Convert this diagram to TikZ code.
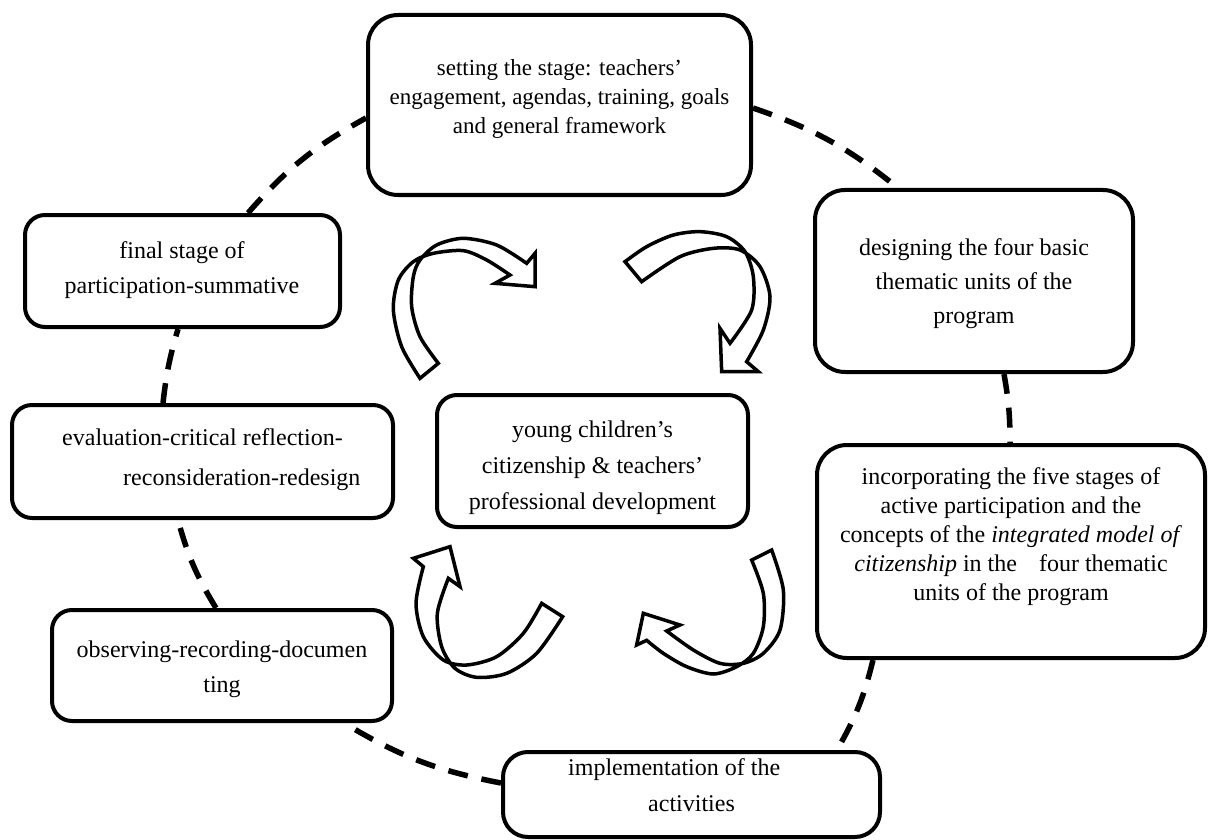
\documentclass[tikz,border=0pt]{standalone}
\usepackage{fontspec}
\setmainfont{Liberation Serif}
\begin{document}
\begin{tikzpicture}[x=1pt,y=-1pt,
  box/.style={draw, line width=4pt, rounded corners=#1, fill=white, inner sep=0pt},
  box/.default=25pt,
  txt/.style={font=\fontsize{24}{#1}\selectfont, align=center, inner sep=0pt},
  ring/.style={line width=5.5pt, dash pattern=on 20pt off 14pt},
  barrow/.style={draw, line width=3.5pt, fill=white, line join=miter}]
\useasboundingbox[fill=white] (0,0) rectangle (1208,840);

% boxes
\node[box=30pt, minimum width=383pt, minimum height=180pt] (b1) at (559.5,105) {};
\node[box=30pt, minimum width=318pt, minimum height=182pt] (b2) at (974,281) {};
\node[box=20pt, minimum width=315pt, minimum height=112pt] (b3) at (182.5,271) {};
\node[box=20pt, minimum width=381pt, minimum height=113pt] (b4) at (202.5,461.5) {};
\node[box=20pt, minimum width=340pt, minimum height=111pt] (b5) at (222,665.5) {};
\node[box=25pt, minimum width=377pt, minimum height=85pt] (b6) at (691.5,794.5) {};
\node[box=30pt, minimum width=388pt, minimum height=213pt] (b7) at (1011,551.5) {};
\node[box=20pt, minimum width=311pt, minimum height=132pt] (bc) at (592.5,461) {};

% texts
\node[txt=29pt, font=\fontsize{23}{29}\selectfont] (t1) at (559.5,99) {setting the stage: teachers’\\engagement, agendas, training, goals\\and general framework};
\node[txt=34pt] (t2) at (974,284) {designing the four basic\\thematic units of the\\program};
\node[txt=35pt] (t3) at (182,270) {final stage of\\participation-summative};
\node[txt=40pt, align=left, anchor=west] (t4) at (62,460) {evaluation-critical reflection-\\\hspace*{61pt}reconsideration-redesign};
\node[txt=35pt] (t5) at (222,669.5) {observing-recording-documen\\ting};
\node[txt=36pt, align=left, anchor=west] (t6) at (568,785) {implementation of the\\\hspace*{80pt}activities};
\node[txt=29pt] (t7) at (1011,536.5) {incorporating the five stages of\\active participation and the\\concepts of the \textit{integrated model of}\\\textit{citizenship} in the\hspace{16pt} four thematic\\units of the program};
\node[txt=36pt] (tc) at (592.5,467.5) {young children’s\\citizenship \& teachers’\\professional development};

% dashed ring connectors
\draw[ring] ([xshift=225pt]b3.north west) to[bend left=10] ([yshift=-105pt]b1.north west);
\draw[ring] ([yshift=-95pt]b1.north east) to[bend left=10] ([xshift=85pt]b2.north west);
\draw[ring] ([xshift=191pt]b2.south west) to[bend left=5] ([xshift=195pt]b7.north west);
\draw[ring] ([xshift=58pt]b7.south west) to[bend left=8] ([xshift=-45pt]b6.north east);
\draw[ring] ([yshift=-33pt]b6.north west) to[bend left=10] ([xshift=-50pt]b5.south east);
\draw[ring] ([xshift=166pt]b5.north west) to[bend left=8] ([xshift=168pt]b4.south west);
\draw[ring] ([xshift=153pt]b4.north west) to[bend left=5] ([xshift=155pt]b3.south west);

% curved block arrows (top)
\begin{scope}[shift={(380,230)}, scale=1/3]
\draw[barrow] plot[smooth] coordinates {(120,445) (65,350) (40,240) (55,150) (100,95) (160,70) (250,62) (320,90) (390,135)}
  -- (345,160) -- (465,170) -- (465,70) -- (440,100)
  -- plot[smooth] coordinates {(440,100) (350,45) (250,25) (170,45) (120,90) (100,140) (95,230) (120,320) (175,400)} -- cycle;
\draw[barrow] plot[smooth] coordinates {(735,95) (800,50) (880,15) (960,5) (1040,20) (1095,65) (1120,140) (1115,240) (1050,340)}
  -- (1020,295) -- (1025,425) -- (1135,425) -- (1100,395)
  -- plot[smooth] coordinates {(1100,395) (1150,300) (1170,200) (1140,110) (1080,60) (1000,55) (900,80) (785,155)} -- cycle;
\end{scope}
% curved block arrows (bottom)
\begin{scope}[shift={(380,500)}, scale=1/3]
\draw[barrow] plot[smooth] coordinates {(548,350) (470,460) (380,520) (290,532) (225,505) (185,440) (172,340) (205,235)}
  -- (240,260) -- (210,140) -- (100,175) -- (130,200)
  -- plot[smooth] coordinates {(130,200) (108,310) (130,410) (190,480) (260,495) (350,470) (430,400) (485,310)} -- cycle;
\draw[barrow] plot[smooth] coordinates {(1115,180) (1150,280) (1150,380) (1120,460) (1070,500) (1000,522) (920,500) (850,460) (800,421)}
  -- (770,435) -- (790,340) -- (900,375) -- (860,393)
  -- plot[smooth] coordinates {(860,393) (940,450) (1020,490) (1090,490) (1150,460) (1200,390) (1210,270) (1175,150)} -- cycle;
\end{scope}
\end{tikzpicture}
\end{document}
